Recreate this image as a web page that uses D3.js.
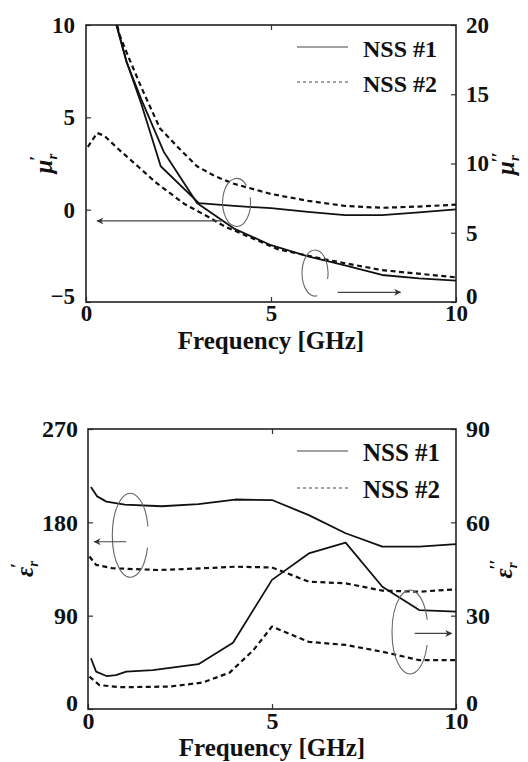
<!DOCTYPE html>
<html>
<head>
<meta charset="utf-8">
<script src="https://cdn.jsdelivr.net/npm/d3@7"></script>
<style>
body{margin:0;background:#fff;}
</style>
</head>
<body>
<script>
// frequency axis (GHz), shared by both panels
var freqDomain = [0, 10];
var freqTicks = [0, 5, 10];

// --- permeability panel ---
var muRealTicks = [-5, 0, 5, 10];
var muImagTicks = [0, 5, 10, 15, 20];
// [frequency GHz, value]
var muReal1 = [[0.8,10.2],[1.1,8.0],[1.5,5.7],[2.02,2.35],[3.05,0.35],[4,0.2],[5,0.08],[6,-0.12],[7,-0.3],[8,-0.3],[9,-0.15],[10,0.02]];
var muReal2 = [[0.8,10.4],[0.9,9.5],[1.1,8.5],[1.5,6.6],[2,4.4],[2.5,3.35],[3,2.35],[3.5,1.8],[4,1.4],[5,0.85],[6,0.48],[7,0.2],[8,0.1],[9,0.17],[10,0.27]];
var muImag1 = [[0.8,20.2],[1.1,17.3],[1.5,14.6],[2.1,10.85],[3,7.15],[4,5.3],[5,4.1],[6,3.3],[7,2.65],[8,1.95],[9,1.7],[10,1.54]];
var muImag2 = [[0.05,11.2],[0.3,12.2],[0.5,12.0],[0.85,11.1],[1.4,9.8],[1.9,8.6],[2.65,7.1],[3.3,6.15],[3.75,5.45],[5.2,3.8],[6.6,3.0],[8,2.3],[10,1.78]];

// --- permittivity panel ---
var epsRealTicks = [0, 90, 180, 270];
var epsImagTicks = [0, 30, 60, 90];
var epsReal1 = [[0.08,214],[0.25,205],[0.5,200],[1,197],[2,195.5],[3,197.5],[4,202],[5,201.5],[6,187],[7,169.5],[8,156.5],[9,156.5],[10,159]];
var epsReal2 = [[0.04,147],[0.22,139],[0.67,135.7],[1.94,134],[3.12,135.7],[4,137.2],[5,136.5],[6,122.8],[7,121.2],[8,114.1],[9,113.1],[10,115.4]];
var epsImag1 = [[0.08,16.3],[0.22,12],[0.5,10.6],[0.76,10.9],[1.04,12],[1.76,12.5],[3,14.4],[3.94,21.3],[5,41.5],[6,50],[7,53.5],[8,39.3],[9,31.8],[10,31.3]];
var epsImag2 = [[0.04,10.4],[0.31,7.7],[0.85,7.0],[2.2,7.2],[3.12,8.5],[3.85,11.7],[4.5,19],[5,26.5],[6,21.6],[7,20.6],[8,18.4],[9,15.7],[10,15.7]];

var legendNames = ["NSS #1", "NSS #2"];

var serif = "'Liberation Serif', 'Times New Roman', 'DejaVu Serif', serif";

var svg = d3.select("body").append("svg")
	.attr("width", 528)
	.attr("height", 762)
	.style("font-family", serif);

var defs = svg.append("defs");
defs.append("marker")
	.attr("id", "head")
	.attr("viewBox", "0 0 10 10")
	.attr("refX", 9).attr("refY", 5)
	.attr("markerWidth", 11).attr("markerHeight", 7)
	.attr("markerUnits", "userSpaceOnUse")
	.attr("orient", "auto")
	.append("path")
	.attr("d", "M0,0L10,5L0,10L3,5Z")
	.attr("fill", "#333");

function ellipsePath(cx, cy, rx, ry, gapFrom, gapTo){
	// open ellipse, gap between two angles (degrees, screen coords)
	var a1 = gapFrom * Math.PI / 180, a2 = gapTo * Math.PI / 180;
	return "M" + (cx + rx*Math.cos(a2)) + "," + (cy + ry*Math.sin(a2)) +
		"A" + rx + "," + ry + " 0 1 1 " + (cx + rx*Math.cos(a1)) + "," + (cy + ry*Math.sin(a1));
}

function txt(sel, size){
	return sel.attr("font-family", serif)
		.attr("font-weight", "bold")
		.attr("font-size", size)
		.attr("fill", "#111");
}

function drawPanel(p){
	var x = d3.scaleLinear().domain(freqDomain).range([p.left, p.right]);
	var yL = d3.scaleLinear().domain([p.leftTicks[0], p.leftTicks[p.leftTicks.length-1]]).range([p.bottom, p.top]);
	var yR = d3.scaleLinear().domain([p.rightTicks[0], p.rightTicks[p.rightTicks.length-1]]).range([p.bottom, p.top]);
	var g = svg.append("g");

	defs.append("clipPath").attr("id", p.id + "clip")
		.append("rect")
		.attr("x", p.left).attr("y", p.top)
		.attr("width", p.right - p.left).attr("height", p.bottom - p.top);

	function styleAxis(ax){
		ax.attr("font-family", serif).attr("font-size", p.tickFont);
		ax.select(".domain").remove();
		ax.selectAll("line").attr("stroke", "#333").attr("stroke-width", 1.2);
		txt(ax.selectAll("text"), p.tickFont);
	}

	var bx = g.append("g").attr("transform", "translate(0," + p.bottom + ")")
		.call(d3.axisBottom(x).tickValues(freqTicks).tickSize(-5).tickPadding(3).tickFormat(d3.format("d")));
	styleAxis(bx);
	var tx = g.append("g").attr("transform", "translate(0," + p.top + ")")
		.call(d3.axisTop(x).tickValues([5]).tickSize(-5).tickFormat(""));
	styleAxis(tx);
	var ly = g.append("g").attr("transform", "translate(" + p.left + ",0)")
		.call(d3.axisLeft(yL).tickValues(p.leftTicks).tickSize(-5).tickPadding(p.leftPad).tickFormat(d3.format("d")));
	styleAxis(ly);
	var ry = g.append("g").attr("transform", "translate(" + p.right + ",0)")
		.call(d3.axisRight(yR).tickValues(p.rightTicks).tickSize(-5).tickPadding(10).tickFormat(d3.format("d")));
	styleAxis(ry);
	// bottom zeros sit a little high so they clear the frequency labels below
	ry.selectAll(".tick text").filter(function(d){return d === 0;}).attr("dy", "0.05em");
	ly.selectAll(".tick text").filter(function(d){return d === p.leftTicks[0];}).attr("dy", "0.05em");

	g.append("rect")
		.attr("x", p.left).attr("y", p.top)
		.attr("width", p.right - p.left).attr("height", p.bottom - p.top)
		.attr("fill", "none").attr("stroke", "#222").attr("stroke-width", 1.6);

	var lines = g.append("g").attr("clip-path", "url(#" + p.id + "clip)");
	p.series.forEach(function(s){
		var yy = s.axis === "left" ? yL : yR;
		lines.append("path")
			.datum(s.data)
			.attr("fill", "none")
			.attr("stroke", "#111")
			.attr("stroke-width", s.dash ? 2.2 : 1.8)
			.attr("stroke-dasharray", s.dash ? "5,3.5" : null)
			.attr("stroke-linejoin", "round")
			.attr("d", d3.line().x(function(d){return x(d[0]);}).y(function(d){return yy(d[1]);}));
	});

	// annotation ellipses + arrows
	p.notes.forEach(function(n){
		var yy = n.axis === "left" ? yL : yR;
		g.append("path")
			.attr("d", ellipsePath(x(n.cf), yy(n.cv), n.rx, n.ry, n.gap[0], n.gap[1]))
			.attr("fill", "none").attr("stroke", "#666").attr("stroke-width", 1.1);
		g.append("line")
			.attr("x1", x(n.arrow[0])).attr("x2", x(n.arrow[1]))
			.attr("y1", yy(n.arrowV)).attr("y2", yy(n.arrowV))
			.attr("stroke", "#444").attr("stroke-width", 1.2)
			.attr("marker-end", "url(#head)");
	});

	// legend
	var leg = g.append("g");
	legendNames.forEach(function(name, i){
		var ly0 = p.legendY + i * p.legendStep;
		leg.append("line")
			.attr("x1", 297).attr("x2", 348)
			.attr("y1", ly0).attr("y2", ly0)
			.attr("stroke", "#444").attr("stroke-width", 1.1)
			.attr("stroke-dasharray", i ? "3,3" : null);
		txt(leg.append("text"), p.legendFont)
			.attr("x", 363).attr("y", ly0 + 9.5)
			.text(name);
	});

	txt(g.append("text"), 25)
		.attr("x", (p.left + p.right) / 2)
		.attr("y", p.bottom + p.titleGap)
		.attr("text-anchor", "middle")
		.text("Frequency [GHz]");

	// rotated axis symbols: italic greek, subscript r, primes
	[[p.leftLabelX, p.leftSym, "\u2032"], [p.rightLabelX, p.rightSym, "\u2032\u2032"]].forEach(function(l){
		var t = txt(g.append("text"), 25)
			.attr("transform", "translate(" + l[0] + "," + ((p.top + p.bottom) / 2) + ") rotate(-90)")
			.attr("text-anchor", "middle");
		t.append("tspan").attr("font-style", "italic").text(l[1]);
		t.append("tspan").attr("font-style", "italic").attr("font-size", 15).attr("dy", 5).text("r");
		t.append("tspan").attr("font-size", 18).attr("dx", -7).attr("dy", -14).text(l[2]);
	});
}

drawPanel({
	id: "mu", left: 86, right: 456, top: 25, bottom: 302,
	leftTicks: muRealTicks, rightTicks: muImagTicks,
	leftPad: 11, tickFont: 23, legendFont: 24, titleGap: 47,
	legendY: 47, legendStep: 35,
	leftLabelX: 52, rightLabelX: 514, leftSym: "\u03bc", rightSym: "\u03bc",
	series: [
		{data: muReal1, axis: "left", dash: false},
		{data: muImag1, axis: "right", dash: false},
		{data: muReal2, axis: "left", dash: true},
		{data: muImag2, axis: "right", dash: true}
	],
	notes: [
		{axis: "left", cf: 4.07, cv: 0.39, rx: 14, ry: 24, gap: [-45, -12], arrow: [3.7, 0.3], arrowV: -0.61},
		{axis: "right", cf: 6.19, cv: 2.09, rx: 13, ry: 23, gap: [15, 80], arrow: [6.8, 8.5], arrowV: 0.7}
	]
});

drawPanel({
	id: "eps", left: 88, right: 456, top: 429, bottom: 709,
	leftTicks: epsRealTicks, rightTicks: epsImagTicks,
	leftPad: 10, tickFont: 24, legendFont: 25, titleGap: 47,
	legendY: 451, legendStep: 37,
	leftLabelX: 33, rightLabelX: 512, leftSym: "\u03b5", rightSym: "\u03b5",
	series: [
		{data: epsReal1, axis: "left", dash: false},
		{data: epsImag1, axis: "right", dash: false},
		{data: epsReal2, axis: "left", dash: true},
		{data: epsImag2, axis: "right", dash: true}
	],
	notes: [
		{axis: "left", cf: 1.15, cv: 167.5, rx: 18, ry: 42, gap: [-12, 17], arrow: [1.04, 0.17], arrowV: 161.3},
		{axis: "right", cf: 8.75, cv: 24.75, rx: 18, ry: 42, gap: [-17, 18], arrow: [8.88, 9.88], arrowV: 24.3}
	]
});
</script>
</body>
</html>
